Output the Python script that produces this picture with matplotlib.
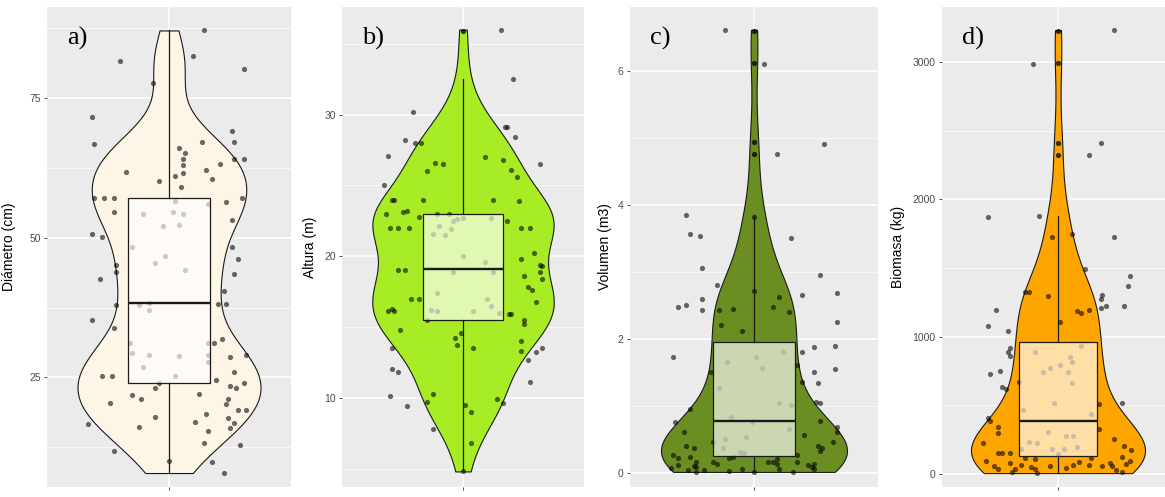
import numpy as np
import matplotlib
matplotlib.use("Agg")
import matplotlib.pyplot as plt
from matplotlib.ticker import AutoMinorLocator

# ---- datos (valor, desplazamiento del jitter) ----
diametro = [87.1, 81.6, 82.5, 80.2, 77.7, 71.6, 66.8, 69.1, 67.1, 67.1,
            66.1, 65.2, 64.1, 63.0, 64.1, 64.1, 63.2, 61.8, 61.6, 61.1,
            62.1, 60.5, 60.2, 59.1, 57.1, 57.1, 57.1, 57.1, 54.6, 56.4,
            53.2, 56.1, 56.6, 54.3, 54.6, 54.3, 52.1, 52.3, 50.7, 50.2,
            48.4, 48.4,
            46.2, 45.2, 43.9, 42.7, 43.6, 45.5, 46.8, 44.3, 40.5, 38.2,
            38.2, 38.0, 38.0, 38.4, 37.0, 35.2, 33.8, 31.8, 31.1, 29.1,
            28.6, 25.9, 24.1, 23.4, 23.2, 24.6, 29.3, 29.1, 26.8, 28.9,
            29.1, 27.7, 25.2, 31.2, 31.1, 25.2, 25.2, 24.1, 23.2, 21.8,
            21.1, 22.1, 21.1, 20.2, 20.4, 18.0, 18.4, 19.1, 19.1, 17.7,
            16.8, 15.9, 17.1, 16.6, 16.1, 15.4, 13.2, 12.9, 11.8, 9.8,
            10.0, 7.9]
diametro_jit = [0.17, -0.24, 0.12, 0.37, -0.08, -0.38, -0.37, 0.31, 0.32, 0.16,
                0.05, 0.08, 0.07, 0.07, 0.32, 0.37, 0.25, -0.21, 0.07, 0.03,
                0.18, 0.21, -0.05, 0.06, -0.37, -0.32, -0.27, 0.36, -0.27, 0.28,
                0.31, 0.19, 0.03, -0.13, 0.02, 0.07, -0.03, 0.05, -0.38, -0.33,
                -0.18, 0.31,
                0.34, -0.26, -0.26, -0.34, 0.32, -0.07, -0.02, 0.08, 0.27, 0.24,
                0.28, -0.26, -0.15, -0.10, -0.10, -0.38, -0.27, 0.26, 0.22, 0.38,
                0.30, 0.32, 0.37, 0.30, 0.33, 0.23, -0.18, -0.10, -0.13, 0.05,
                0.19, 0.19, 0.03, -0.19, 0.19, -0.33, -0.28, -0.05, -0.07, -0.18,
                -0.14, 0.15, 0.29, 0.28, -0.29, -0.07, 0.18, 0.34, 0.38, 0.29,
                0.32, 0.30, 0.13, -0.40, -0.15, 0.19, 0.17, 0.35, -0.27, 0.21,
                0.0, 0.27]

altura = [36.0, 32.5, 30.2, 29.1, 29.1, 28.2, 28.0, 28.0, 28.4, 27.1,
          26.6, 26.5, 27.0, 26.8, 26.1, 25.6, 26.5, 26.0, 25.0, 24.0,
          24.0, 24.0, 24.0, 23.9, 23.0, 23.1, 23.2, 22.8, 23.0, 23.0,
          22.5, 22.0, 22.0, 22.0, 22.0, 22.0, 22.1, 22.5, 22.6, 22.7,
          22.7, 21.6, 21.5, 21.9,
          20.2, 19.8, 19.4, 19.3, 18.9, 18.4, 18.6, 17.8, 17.6, 16.8,
          19.0, 19.0, 17.0, 17.0, 16.1, 16.3, 16.1, 14.8, 15.5, 14.6,
          14.2, 13.7, 13.5, 15.9, 15.9, 15.5, 15.2, 14.0, 13.3, 13.5,
          13.2, 12.7, 13.5, 12.0, 11.8, 11.1, 10.1, 10.3, 9.7, 9.4,
          9.5, 9.0, 9.9, 9.6, 7.8, 6.8, 4.8, 17.4, 17.0, 16.5,
          16.2, 16.1, 16.1, 16.0, 20.0, 19.6, 18.9, 18.9]
altura_jit = [0.19, 0.25, -0.25, 0.21, 0.22, -0.29, -0.24, -0.21, 0.26, -0.37,
              -0.14, -0.10, 0.11, 0.20, 0.24, 0.27, 0.38, -0.18, -0.39, -0.35,
              -0.34, -0.20, 0.15, 0.28, -0.38, -0.30, -0.28, -0.22, -0.13, -0.07,
              0.22, -0.36, -0.32, -0.27, 0.29, 0.33, -0.12, -0.05, -0.03, 0.0,
              0.14, -0.15, -0.09, -0.06,
              0.35, 0.29, 0.38, 0.39, 0.38, 0.39, 0.30, 0.32, 0.34, 0.36,
              -0.32, -0.29, -0.26, -0.22, -0.37, -0.35, -0.34, -0.31, -0.18, -0.01,
              -0.04, -0.03, 0.05, 0.23, 0.24, 0.30, 0.30, 0.29, 0.29, 0.39,
              0.36, 0.32, -0.35, -0.35, -0.32, 0.33, -0.36, -0.15, -0.18, -0.28,
              0.01, 0.04, 0.17, 0.20, -0.15, 0.04, 0.0, -0.13, 0.12, 0.14,
              -0.16, -0.13, 0.05, 0.18, 0.0, 0.11, 0.15, -0.05]

volumen = [6.61, 6.10, 4.91, 4.75, 3.84, 3.57, 3.53, 3.51, 3.05, 2.95,
           2.80, 2.71, 2.66, 2.69, 2.63, 2.59, 2.48, 2.50, 2.43, 2.43,
           2.44, 2.47, 2.40, 2.25, 2.20, 2.11, 1.73, 1.80, 1.88, 1.89,
           1.55, 1.50, 1.34, 1.61, 1.35, 1.50, 1.06, 1.04, 0.95, 0.76,
           0.77, 0.68, 0.61, 0.57, 0.61, 0.46, 0.40, 0.33, 0.37, 0.40,
           0.37, 0.46, 0.27, 0.22, 0.24, 0.16, 0.10, 0.09, 0.07, 0.12,
           0.045, 0.015, 0.045, 0.16, 0.13, 0.22, 0.24, 0.03, 0.06, 0.015,
           0.16, 0.16, 0.13, 0.21, 0.06, 0.015, 0.27, 0.16, 0.12, 0.09,
           0.13, 0.06, 1.65, 1.73, 1.56, 1.80, 1.01, 1.04, 1.26, 0.65,
           0.51, 0.54, 0.37, 0.31, 0.30, 0.76, 0.83, 3.82]
volumen_jit = [-0.14, 0.05, 0.34, 0.11, -0.33, -0.31, -0.26, 0.18, -0.25, 0.32,
               -0.18, 0.0, 0.23, 0.40, 0.12, -0.25, -0.37, -0.33, -0.25, -0.17,
               -0.10, 0.09, 0.17, 0.40, -0.16, -0.06, -0.39, 0.23, 0.29, 0.39,
               0.39, 0.29, 0.31, 0.21, 0.23, -0.21, 0.30, 0.32, -0.31, -0.38,
               0.32, 0.40, 0.40, 0.24, -0.34, 0.38, 0.31, 0.32, 0.33, -0.33,
               -0.29, -0.20, -0.39, -0.37, -0.31, -0.28, -0.29, -0.28, -0.40, -0.37,
               -0.32, -0.28, -0.24, -0.20, -0.18, -0.12, -0.10, -0.12, -0.06, 0.0,
               0.07, 0.09, 0.11, 0.11, 0.12, 0.19, 0.21, 0.21, 0.26, 0.28,
               0.29, 0.29, -0.13, 0.01, 0.04, 0.14, 0.18, 0.12, -0.17, 0.17,
               -0.14, -0.04, -0.15, -0.07, -0.05, -0.01, -0.11, 0.0]

biomasa = [3232, 2985, 2411, 2324, 1874, 1881, 1728, 1750, 1728, 1496,
           1445, 1372, 1329, 1322, 1293, 1300, 1271, 1206, 1220, 1220,
           1191, 1184, 1169, 1198, 1104, 1075, 1038, 915, 886, 857,
           748, 726, 632, 617, 668, 516, 508, 407, 385, 341,
           298, 327, 225, 254, 203, 174, 153, 153, 153, 116,
           109, 116, 123, 94, 73, 80, 58, 94, 58, 36,
           80, 36, 15, 65, 51, 36, 7, 58, 44, 65,
           87, 65, 58, 29, 15, 886, 930, 850, 813, 792,
           770, 741, 741, 661, 465, 516, 436, 305, 276, 276,
           232, 225, 182, 182, 196, 145, 182]
biomasa_jit = [0.29, -0.13, 0.22, 0.16, -0.36, -0.10, -0.03, 0.07, 0.29, 0.14,
               0.37, 0.36, -0.17, -0.15, -0.05, 0.23, 0.22, 0.22, 0.25, 0.34,
               -0.32, 0.10, 0.12, 0.16, 0.01, -0.36, -0.26, -0.25, -0.26, -0.25,
               -0.30, -0.35, -0.29, -0.27, -0.20, 0.33, 0.21, -0.36, -0.35, -0.31,
               -0.31, 0.21, -0.39, 0.29, 0.34, 0.38, -0.31, -0.29, -0.25, -0.17,
               -0.12, 0.17, 0.33, 0.37, 0.35, 0.27, 0.28, -0.37, -0.33, -0.31,
               -0.25, -0.22, -0.24, -0.19, -0.14, -0.12, -0.11, -0.04, 0.04, 0.08,
               0.11, 0.16, 0.23, 0.30, 0.33, -0.12, 0.12, 0.06, 0.07, 0.01,
               -0.04, -0.08, 0.05, 0.07, -0.18, -0.02, 0.17, -0.05, 0.04, 0.08,
               -0.15, -0.11, -0.03, 0.03, 0.10, 0.0, -0.19]

# estadisticos del boxplot (q1, mediana, q3, bigotes, atipicos)
cajas = [
    dict(q1=24.1, med=38.4, q3=57.1, whislo=7.9, whishi=87.1, fliers=[]),
    dict(q1=15.5, med=19.1, q3=23.0, whislo=4.8, whishi=32.5, fliers=[35.9]),
    dict(q1=0.25, med=0.77, q3=1.95, whislo=0.015, whishi=3.84,
         fliers=[4.75, 4.93, 6.12, 6.59]),
    dict(q1=130, med=385, q3=960, whislo=7, whishi=1877,
         fliers=[2324, 2411, 2992, 3225]),
]

titulos = ["Diámetro (cm)", "Altura (m)", "Volumen (m3)", "Biomasa (kg)"]
letras = ["a)", "b)", "c)", "d)"]
colores = ["#FDF5E6", "#A8EC26", "#6B8E23", "#FFA500"]
ajuste = [0.7, 1.0, 1.0, 1.0]   # factor del ancho de banda de la densidad
yticks = [[25, 50, 75], [10, 20, 30], [0, 2, 4, 6], [0, 1000, 2000, 3000]]
ylims = [(5.4, 91.3), (3.7, 37.6), (-0.21, 6.95), (-94, 3400)]

# geometria de los paneles en pixeles (izquierda, ancho, desplazamiento del titulo)
paneles = [(47, 244, -31), (342, 242, -25), (630, 248, -18), (942, 232, -37)]
W, H = 1165, 497
TOP, ALTO = 7, 480


def nrd0(v):
    # ancho de banda por defecto de R (bw.nrd0)
    v = np.asarray(v, float)
    sd = np.std(v, ddof=1)
    q75, q25 = np.percentile(v, [75, 25])
    lo = min(sd, (q75 - q25) / 1.34)
    return 0.9 * lo * len(v) ** -0.2


def panel(ax, vals, jit, caja, color, adj, titulo, letra, ticks, ylim, dx_lab):
    ax.set_facecolor("#EBEBEB")
    for s in ax.spines.values():
        s.set_visible(False)

    bw = adj * nrd0(vals) / np.std(vals, ddof=1)
    vp = ax.violinplot([vals], positions=[1], widths=0.9, showextrema=False,
                       bw_method=bw, points=512)
    for b in vp["bodies"]:
        b.set_facecolor(color)
        b.set_edgecolor("#1a1a1a")
        b.set_linewidth(0.8)
        b.set_alpha(1)
        b.set_zorder(2)

    ax.scatter(1 + np.array(jit), vals, s=14, c="black", alpha=0.58,
               linewidths=0, zorder=3)

    ax.bxp([caja], positions=[1], widths=0.4, patch_artist=True,
           showcaps=False, zorder=4,
           boxprops=dict(facecolor=(1, 1, 1, 0.65), edgecolor="#1a1a1a", linewidth=0.9),
           whiskerprops=dict(color="#1a1a1a", linewidth=0.9),
           medianprops=dict(color="#1a1a1a", linewidth=1.7),
           flierprops=dict(marker="o", markerfacecolor="black", markeredgecolor="none",
                           markersize=3.8, alpha=0.75))

    ax.set_xlim(0.4, 1.6)
    ax.set_xticks([1])
    ax.set_xticklabels([""])
    ax.set_ylim(*ylim)
    ax.set_yticks(ticks)
    ax.yaxis.set_minor_locator(AutoMinorLocator(2))
    ax.set_axisbelow(True)
    ax.grid(which="major", color="white", linewidth=1.1)
    ax.grid(which="minor", axis="y", color="white", linewidth=0.5)
    ax.tick_params(which="major", length=2.5, width=0.6, color="#333333",
                   labelsize=7.5, labelcolor="#4D4D4D", pad=2)
    ax.tick_params(which="minor", length=0)
    for t in ax.get_yticklabels():
        t.set_family("Liberation Sans")

    ax.set_ylabel(titulo, fontsize=10, family="Liberation Sans", color="black")
    w = ax.get_position().width * W
    ax.yaxis.set_label_coords(dx_lab / w, 0.5)

    ax.text(20 / w, 1 - 38 / ALTO, letra, transform=ax.transAxes, fontsize=19,
            family="Liberation Serif", va="baseline", ha="left", zorder=6)


fig = plt.figure(figsize=(W / 100, H / 100), dpi=100)
datos = [(diametro, diametro_jit), (altura, altura_jit),
         (volumen, volumen_jit), (biomasa, biomasa_jit)]

for i, (izq, ancho, dx_lab) in enumerate(paneles):
    ax = fig.add_axes([izq / W, 1 - (TOP + ALTO) / H, ancho / W, ALTO / H])
    vals, jit = datos[i]
    panel(ax, vals, jit, cajas[i], colores[i], ajuste[i], titulos[i], letras[i],
          yticks[i], ylims[i], dx_lab)

fig.savefig("out.png", dpi=100)
